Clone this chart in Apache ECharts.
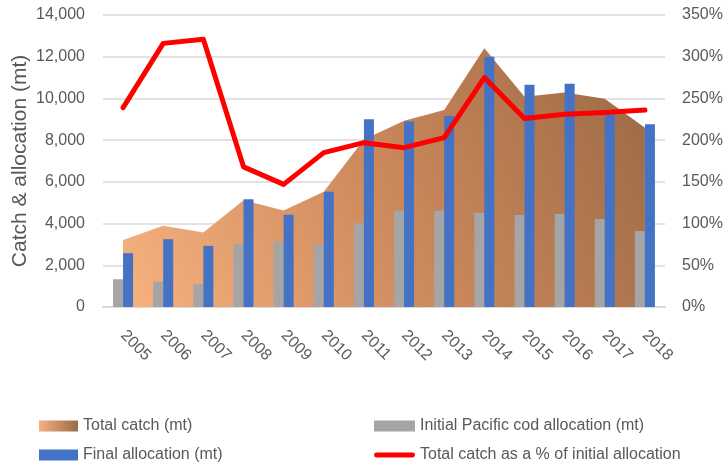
<!DOCTYPE html>
<html>
<head>
<meta charset="utf-8">
<script src="https://cdn.jsdelivr.net/npm/echarts@6/dist/echarts.min.js"></script>
<style>
html,body{margin:0;padding:0;background:#fff;}
#chart{width:728px;height:468px;}
</style>
</head>
<body>
<div id="chart"></div>
<script>
var years = ['2005','2006','2007','2008','2009','2010','2011','2012','2013','2014','2015','2016','2017','2018'];
var totalCatch = [3210, 3890, 3570, 5120, 4630, 5530, 8030, 8930, 9440, 12400, 10080, 10280, 9980, 8600];
var initialAlloc = [1330, 1215, 1100, 3020, 3130, 2970, 4010, 4620, 4620, 4520, 4410, 4460, 4220, 3640];
var finalAlloc = [2580, 3250, 2930, 5170, 4420, 5520, 9000, 8890, 9160, 12000, 10650, 10700, 9210, 8760];
var pctOfInitial = [239, 316, 321, 168, 147, 185, 197, 191, 203, 275, 226, 231, 233, 236];
var leftTicks = {min: 0, max: 14000, interval: 2000};
var rightTicks = {min: 0, max: 350, interval: 50};

var FONT = 'Liberation Sans';
var TXT = '#595959';

var areaGrad = new echarts.graphic.LinearGradient(0, 1, 1, 0, [
  {offset: 0, color: '#f7b27f'},
  {offset: 0.5, color: '#cb885b'},
  {offset: 1, color: '#9a6946'}
]);
var legendGrad = new echarts.graphic.LinearGradient(0, 0, 1, 0, [
  {offset: 0, color: '#f4b183'},
  {offset: 1, color: '#9b6a47'}
]);
var lineIcon = 'path://M2.5,0 L40.5,0 A2.5,2.5 0 0 1 40.5,5 L2.5,5 A2.5,2.5 0 0 1 2.5,0 Z';

var chart = echarts.init(document.getElementById('chart'), null, {renderer: 'canvas'});
var legendText = {fontFamily: FONT, fontSize: 16, color: TXT};
chart.setOption({
  animation: false,
  textStyle: {fontFamily: FONT},
  grid: {left: 103, right: 63, top: 15, bottom: 161, containLabel: false, outerBoundsMode: 'none'},
  legend: [
    {
      orient: 'vertical', left: 39, top: 418, height: 60, padding: 0,
      itemWidth: 39, itemHeight: 11, itemGap: 13,
      textStyle: legendText,
      data: [
        {name: 'Total catch (mt)', icon: 'rect', itemStyle: {color: legendGrad}},
        {name: 'Final allocation (mt)', icon: 'rect'}
      ]
    },
    {
      orient: 'vertical', left: 374, top: 418, height: 60, padding: 0,
      itemWidth: 41, itemHeight: 11, itemGap: 13,
      textStyle: legendText,
      data: [
        {name: 'Initial Pacific cod allocation (mt)', icon: 'rect'},
        {name: 'Total catch as a % of initial allocation', icon: lineIcon}
      ]
    }
  ],
  xAxis: {
    type: 'category',
    data: years,
    boundaryGap: true,
    axisLine: {lineStyle: {color: '#d9d9d9', width: 2}},
    axisTick: {show: false},
    axisLabel: {rotate: -45, margin: 26, fontFamily: FONT, fontSize: 16, color: TXT}
  },
  yAxis: [
    {
      type: 'value', min: leftTicks.min, max: leftTicks.max, interval: leftTicks.interval,
      name: 'Catch & allocation (mt)', nameLocation: 'middle', nameGap: 72, nameMoveOverlap: false,
      nameTextStyle: {fontFamily: FONT, fontSize: 21, color: TXT},
      axisLine: {show: false}, axisTick: {show: false},
      axisLabel: {margin: 18, fontFamily: FONT, fontSize: 16, color: TXT,
        formatter: function (v) { return v.toLocaleString('en-US'); }},
      splitLine: {lineStyle: {color: '#d9d9d9', width: 1.5}}
    },
    {
      type: 'value', min: rightTicks.min, max: rightTicks.max, interval: rightTicks.interval,
      axisLine: {show: false}, axisTick: {show: false},
      axisLabel: {margin: 17, fontFamily: FONT, fontSize: 16, color: TXT, formatter: '{value}%'},
      splitLine: {show: false}
    }
  ],
  series: [
    {
      name: 'Total catch (mt)', type: 'line', data: totalCatch, z: 1,
      symbol: 'none', showSymbol: false,
      itemStyle: {color: '#d08a5c'},
      lineStyle: {width: 0, opacity: 0},
      areaStyle: {color: areaGrad, opacity: 1}
    },
    {
      name: 'Initial Pacific cod allocation (mt)', type: 'bar', data: initialAlloc, z: 2,
      barWidth: 10, barGap: '0%', itemStyle: {color: '#a5a5a5'}
    },
    {
      name: 'Final allocation (mt)', type: 'bar', data: finalAlloc, z: 2,
      barWidth: 10, barGap: '0%', itemStyle: {color: '#4472c4'}
    },
    {
      name: 'Total catch as a % of initial allocation', type: 'line', yAxisIndex: 1, data: pctOfInitial, z: 3,
      symbol: 'none', showSymbol: false,
      itemStyle: {color: '#ff0000'},
      lineStyle: {color: '#ff0000', width: 5, cap: 'round', join: 'round'}
    }
  ]
});
</script>
</body>
</html>
